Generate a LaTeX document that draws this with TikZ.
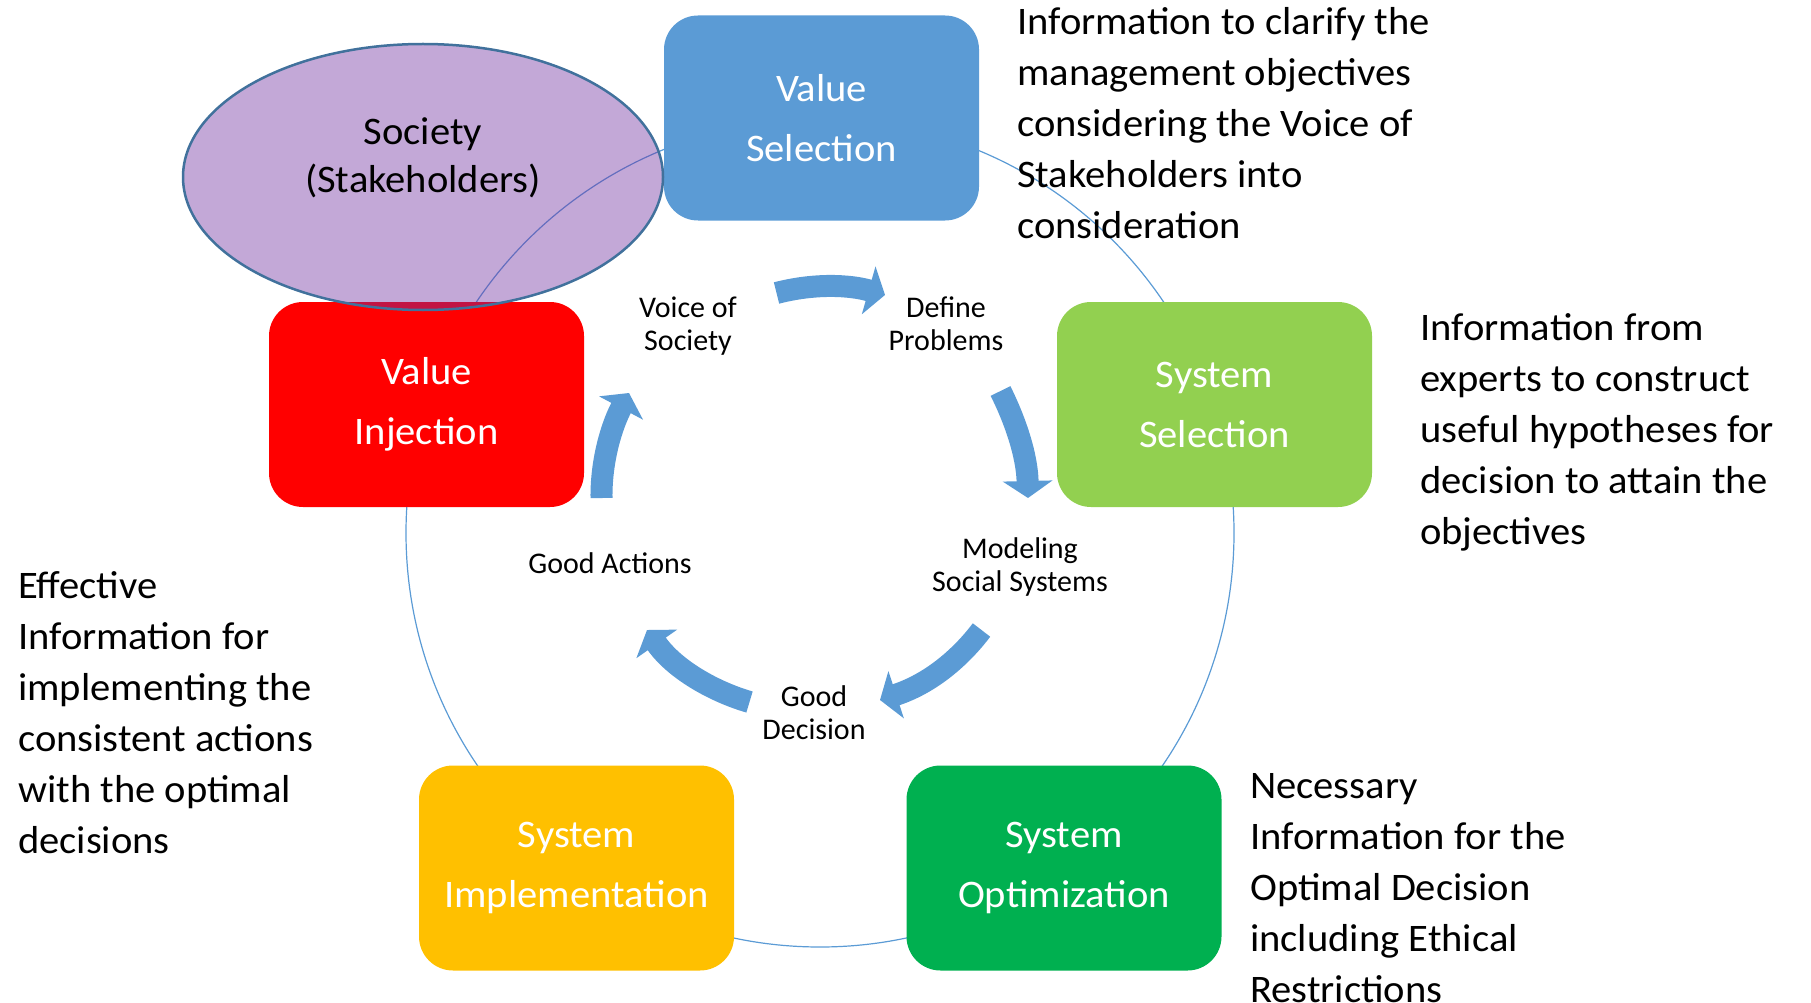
\documentclass[tikz,border=0pt]{standalone}
\usepackage{fontspec}
\setmainfont{Carlito}
\newfontfamily\bigf{Carlito}[FakeStretch=1.04]
\usetikzlibrary{shapes.geometric,arrows.meta}
\definecolor{vsblue}{HTML}{5B9BD5}
\definecolor{vired}{HTML}{FF0000}
\definecolor{ssgreen}{HTML}{92D050}
\definecolor{sigold}{HTML}{FFC000}
\definecolor{sogreen}{HTML}{00B050}
\definecolor{socpurple}{HTML}{7030A0}
\definecolor{socedge}{HTML}{41719C}
\tikzset{
  box/.style={rounded corners=34pt, minimum width=315pt, minimum height=205pt, inner sep=0pt, text=white, font=\bigf\fontsize{39}{60}\selectfont},
  side/.style={anchor=base west, inner sep=0pt, font=\bigf\fontsize{39}{51}\selectfont},
  soctext/.style={anchor=base, inner sep=0pt, font=\bigf\fontsize{39}{48}\selectfont},
  lbl/.style={anchor=base, inner sep=0pt, font=\fontsize{30}{33}\selectfont},
  blockarrow/.style={draw=vsblue, line width=22pt, -{Triangle[length=17pt,width=49pt]}},
  ring/.style={draw=vsblue, line width=1.2pt},
}
\begin{document}
\begin{tikzpicture}[x=1pt,y=-1pt]
\useasboundingbox (0,0) rectangle (1811,1003);
% big ring behind the boxes
\coordinate (cc) at (820,533);
\draw[ring] (cc) circle[radius=414];
% boxes
\node[box, fill=vsblue] (vs) at (821.5,118) {\parbox{300pt}{\centering Value\\Selection}};
\node[box, fill=vired] (vi) at (426.5,404.5) {\parbox{300pt}{\centering Value\\Injection}};
\node[box, fill=ssgreen] (ss) at (1214.5,404.5) {\parbox{300pt}{\centering System\\Selection}};
\node[box, fill=sigold] (si) at (576.5,868) {\parbox{300pt}{\centering System\\Implementation}};
\node[box, fill=sogreen] (so) at (1064,868) {\parbox{300pt}{\centering System\\Optimization}};
% society ellipse
\node[ellipse, minimum width=480pt, minimum height=266pt, fill=socpurple, fill opacity=0.42, draw=socedge, draw opacity=1, line width=2.5pt] (soc) at (423,177) {};
\node[soctext] (socT) at (423,145) {\parbox[t]{400pt}{\centering Society\\(Stakeholders)}};
% block arrows
\coordinate (a1s) at (776.5,293); \coordinate (a1e) at (885,295);
\draw[blockarrow] (a1s) .. controls (815,283) and (850,285) .. (a1e);
\coordinate (a2s) at (1000.5,391); \coordinate (a2e) at (1028,498);
\draw[blockarrow] (a2s) .. controls (1015,420) and (1027,455) .. (a2e);
\coordinate (a3s) at (981.5,630); \coordinate (a3e) at (880,700);
\draw[blockarrow] (a3s) .. controls (965,652) and (935,682) .. (a3e);
\coordinate (a4s) at (749.5,702); \coordinate (a4e) at (647,630);
\draw[blockarrow] (a4s) .. controls (715,692) and (675,670) .. (a4e);
\coordinate (a5s) at (601.5,498); \coordinate (a5e) at (629,393);
\draw[blockarrow] (a5s) .. controls (601,460) and (612,425) .. (a5e);
% small labels
\node[lbl] (l1) at (688,317) {\parbox[t]{200pt}{\centering Voice of\\Society}};
\node[lbl] (l2) at (946,317) {\parbox[t]{200pt}{\centering Define\\Problems}};
\node[lbl] (l3) at (1020,558) {\parbox[t]{250pt}{\centering Modeling\\Social Systems}};
\node[lbl] (l4) at (610,573) {Good Actions};
\node[lbl] (l5) at (814,706) {\parbox[t]{200pt}{\centering Good\\Decision}};
% side texts
\node[side] (t1) at (1017,35) {\parbox[t]{560pt}{\raggedright Information to clarify the\\management objectives\\considering the Voice of\\Stakeholders into\\consideration}};
\node[side] (t2) at (1420,340) {\parbox[t]{420pt}{\raggedright Information from\\experts to construct\\useful hypotheses for\\decision to attain the\\objectives}};
\node[side] (t3) at (18,598) {\parbox[t]{400pt}{\raggedright Effective\\Information for\\implementing the\\consistent actions\\with the optimal\\decisions}};
\node[side] (t4) at (1250,798) {\parbox[t]{500pt}{\raggedright Necessary\\Information for the\\Optimal Decision\\including Ethical\\Restrictions}};
\end{tikzpicture}
\end{document}
